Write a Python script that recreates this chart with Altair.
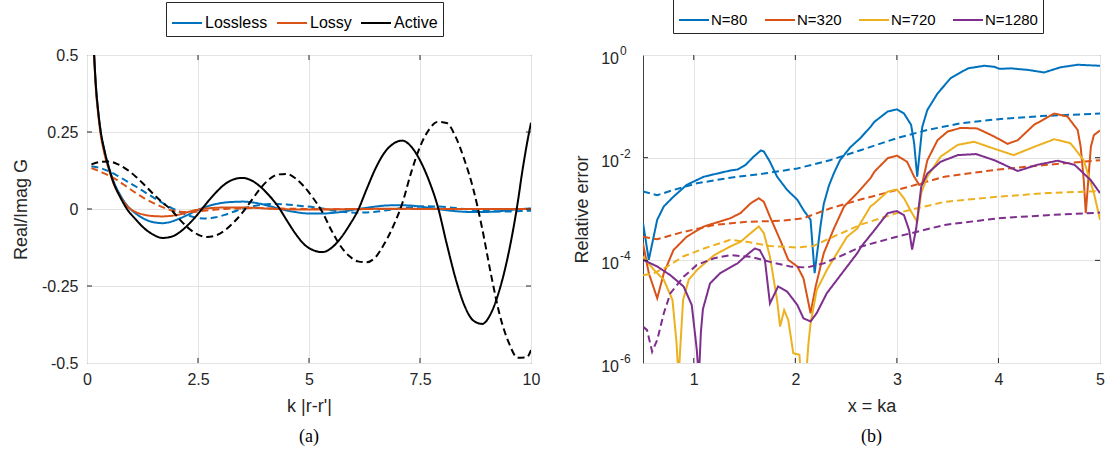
import altair as alt
import pandas as pd

# ---------------- panel (a): Green's function, real (solid) / imaginary (dashed)
K_RE = [0.15, 0.2, 0.25, 0.3, 0.4, 0.5, 0.6, 0.75, 0.9,
        1.1, 1.3, 1.5, 1.7, 1.9, 2.1, 2.3, 2.5, 2.7, 2.9,
        3.1, 3.3, 3.5, 3.7, 3.9, 4.1, 4.3, 4.5, 4.7, 4.9,
        5.1, 5.3, 5.5, 5.7, 5.9, 6.1, 6.3, 6.5, 6.7, 6.9,
        7.1, 7.3, 7.5, 7.7, 7.9, 8.1, 8.3, 8.5, 8.7, 8.9,
        9.1, 9.3, 9.5, 9.7, 9.8, 9.9, 10.0]

LOSSLESS_RE = [0.53, 0.40, 0.32, 0.26, 0.185, 0.132, 0.090, 0.045, 0.012,
               -0.015, -0.033, -0.043, -0.046, -0.041, -0.030, -0.017, -0.003, 0.008, 0.016,
               0.021, 0.023, 0.024, 0.022, 0.017, 0.010, 0.002, -0.005, -0.010, -0.014,
               -0.015, -0.015, -0.013, -0.010, -0.005, 0.000, 0.004, 0.008, 0.011, 0.012,
               0.012, 0.011, 0.008, 0.004, 0.000, -0.004, -0.007, -0.009, -0.010, -0.010,
               -0.009, -0.007, -0.004, -0.001, 0.000, 0.001, 0.002]

LOSSY_RE = [0.53, 0.39, 0.31, 0.25, 0.175, 0.125, 0.082, 0.040, 0.010,
            -0.010, -0.019, -0.023, -0.024, -0.022, -0.017, -0.009, -0.002, 0.002, 0.004,
            0.005, 0.005, 0.005, 0.004, 0.003, 0.001, 0.000, -0.001, -0.002, -0.002,
            -0.002, -0.002, -0.001, -0.001, 0.000, 0.000, 0.000, 0.001, 0.001, 0.001,
            0.001, 0.001, 0.000, 0.000, 0.000, 0.000, 0.000, 0.000, 0.000, 0.000,
            0.000, 0.000, 0.000, 0.000, 0.000, 0.000, 0.000]

ACTIVE_RE = [0.53, 0.40, 0.32, 0.26, 0.185, 0.13, 0.085, 0.038, 0.0,
             -0.034, -0.064, -0.084, -0.094, -0.090, -0.074, -0.048, -0.016, 0.020, 0.053,
             0.080, 0.096, 0.101, 0.093, 0.073, 0.044, 0.009, -0.037, -0.081, -0.116,
             -0.134, -0.140, -0.127, -0.097, -0.055, -0.005, 0.065, 0.132, 0.183, 0.212,
             0.222, 0.203, 0.158, 0.093, 0.008, -0.112, -0.225, -0.313, -0.362, -0.373,
             -0.338, -0.258, -0.140, 0.020, 0.118, 0.205, 0.280]

K_IM = [0.1, 0.3, 0.5, 0.7, 0.9, 1.1, 1.3, 1.5, 1.7, 1.9,
        2.1, 2.3, 2.5, 2.7, 2.9, 3.1, 3.3, 3.5, 3.7, 3.9,
        4.1, 4.3, 4.5, 4.7, 4.9, 5.1, 5.3, 5.5, 5.7, 5.9,
        6.1, 6.3, 6.5, 6.7, 6.9, 7.1, 7.3, 7.5, 7.7, 7.9,
        8.1, 8.3, 8.5, 8.7, 8.9, 9.1, 9.3, 9.5, 9.7, 9.9, 10.0]

LOSSLESS_IM = [0.139, 0.133, 0.122, 0.107, 0.090, 0.073, 0.055, 0.037, 0.020, 0.004,
               -0.010, -0.022, -0.029, -0.031, -0.027, -0.019, -0.009, 0.001, 0.008, 0.013,
               0.016, 0.016, 0.015, 0.012, 0.009, 0.006, 0.002, -0.004, -0.008, -0.011,
               -0.012, -0.011, -0.009, -0.005, -0.001, 0.003, 0.006, 0.008, 0.009, 0.008,
               0.006, 0.003, 0.000, -0.003, -0.006, -0.007, -0.008, -0.008, -0.007, -0.006,
               -0.006]

LOSSY_IM = [0.133, 0.121, 0.108, 0.092, 0.072, 0.052, 0.034, 0.019, 0.006, -0.004,
            -0.009, -0.010, -0.008, -0.005, -0.002, 0.000, 0.002, 0.002, 0.003, 0.003,
            0.002, 0.002, 0.001, 0.001, 0.000, 0.000, 0.000, -0.001, -0.001, -0.001,
            -0.001, 0.000, 0.000, 0.000, 0.000, 0.000, 0.000, 0.000, 0.000, 0.000,
            0.000, 0.000, 0.000, 0.000, 0.000, 0.000, 0.000, 0.000, 0.000, 0.000,
            0.000]

ACTIVE_IM = [0.145, 0.153, 0.154, 0.145, 0.128, 0.105, 0.077, 0.048, 0.021, -0.003,
             -0.036, -0.064, -0.083, -0.091, -0.086, -0.070, -0.044, -0.012, 0.027, 0.066,
             0.096, 0.112, 0.114, 0.099, 0.071, 0.034, -0.010, -0.068, -0.118, -0.152,
             -0.170, -0.173, -0.156, -0.112, -0.055, 0.018, 0.118, 0.202, 0.257, 0.283,
             0.279, 0.235, 0.160, 0.065, -0.063, -0.213, -0.346, -0.434, -0.483, -0.482,
             -0.458]

MEDIA = ["Lossless", "Lossy", "Active"]
MEDIA_COLORS = ["#0072BD", "#D95319", "#000000"]
X_TICKS_A = [0, 2.5, 5, 7.5, 10]
Y_TICKS_A = [-0.5, -0.25, 0, 0.25, 0.5]

# ---------------- panel (b): relative error vs x = ka, stored as log10(error)
MESHES = ["N=80", "N=320", "N=720", "N=1280"]
MESH_COLORS = ["#0072BD", "#D95319", "#EDB120", "#7E2F8E"]

N80_X = [0.5, 0.557, 0.64, 0.705, 0.80, 0.93, 1.1, 1.23, 1.36, 1.43, 1.51, 1.59, 1.66, 1.69,
         1.75, 1.82, 1.92, 2.02, 2.08, 2.15, 2.19, 2.25, 2.28, 2.33, 2.38, 2.44, 2.54, 2.64,
         2.74, 2.78, 2.91, 3.0, 3.07, 3.14, 3.17, 3.2, 3.23, 3.25, 3.30, 3.40, 3.53, 3.70,
         3.86, 3.96, 4.01, 4.12, 4.29, 4.45, 4.61, 4.78, 5.0]
N80_LOG = [-3.27, -3.99, -3.21, -2.95, -2.76, -2.53, -2.37, -2.31, -2.25, -2.23, -2.14, -1.98, -1.86, -1.88,
           -2.08, -2.37, -2.63, -2.82, -3.02, -3.21, -4.25, -3.30, -2.90, -2.55, -2.30, -2.05, -1.80, -1.62,
           -1.40, -1.30, -1.10, -1.06, -1.14, -1.36, -1.72, -2.37, -1.79, -1.40, -1.07, -0.75, -0.45, -0.26,
           -0.21, -0.23, -0.27, -0.26, -0.29, -0.34, -0.24, -0.19, -0.21]
N80_REF_X = [0.5, 0.64, 0.80, 1.03, 1.36, 1.69, 2.02, 2.34, 2.65, 3.0, 3.30, 3.63, 4.0, 4.42, 5.0]
N80_REF_LOG = [-2.66, -2.73, -2.63, -2.50, -2.39, -2.31, -2.21, -2.05, -1.85, -1.62, -1.46, -1.33, -1.25, -1.19, -1.14]

N320_X = [0.5, 0.557, 0.64, 0.705, 0.80, 0.93, 1.1, 1.36, 1.46, 1.56, 1.64, 1.69, 1.75, 1.85,
          1.93, 2.02, 2.08, 2.15, 2.2, 2.28, 2.38, 2.48, 2.61, 2.74, 2.78, 2.91, 3.0, 3.10,
          3.17, 3.22, 3.25, 3.30, 3.40, 3.50, 3.63, 3.79, 3.96, 4.09, 4.19, 4.35, 4.55, 4.68,
          4.78, 4.81, 4.84, 4.86, 4.88, 4.91, 4.94, 5.0]
N320_LOG = [-3.67, -4.25, -4.74, -4.25, -3.80, -3.54, -3.34, -3.18, -3.08, -2.89, -2.79, -2.86, -3.15, -3.60,
            -3.99, -4.12, -4.35, -5.03, -4.51, -3.86, -3.38, -2.95, -2.69, -2.40, -2.27, -2.01, -1.96, -2.08,
            -2.37, -2.53, -2.50, -2.05, -1.66, -1.49, -1.42, -1.43, -1.59, -1.73, -1.66, -1.36, -1.14, -1.20,
            -1.46, -1.79, -2.44, -3.08, -2.56, -1.79, -1.56, -1.47]
N320_REF_X = [0.5, 0.64, 0.87, 1.2, 1.52, 1.85, 2.08, 2.34, 2.65, 3.0, 3.47, 4.0, 4.48, 5.0]
N320_REF_LOG = [-3.54, -3.59, -3.46, -3.31, -3.25, -3.23, -3.18, -2.99, -2.81, -2.63, -2.37, -2.23, -2.14, -2.05]

N720_X = [0.5, 0.61, 0.705, 0.79, 0.83, 0.85, 0.87, 0.895, 0.95, 1.03, 1.2, 1.36, 1.46, 1.56,
          1.64, 1.69, 1.75, 1.82, 1.85, 1.89, 1.93, 1.98, 2.04, 2.06, 2.10, 2.13, 2.15, 2.21,
          2.31, 2.41, 2.51, 2.61, 2.74, 2.78, 2.91, 3.0, 3.07, 3.14, 3.2, 3.24, 3.30, 3.43,
          3.60, 3.76, 3.95, 4.15, 4.35, 4.55, 4.71, 4.84, 4.94, 5.0]
N720_LOG = [-3.93, -4.19, -4.38, -4.77, -5.60, -6.30, -5.60, -4.77, -4.38, -4.19, -3.90, -3.73, -3.64, -3.47,
            -3.34, -3.47, -3.93, -4.77, -5.29, -4.97, -5.16, -5.81, -5.84, -6.40, -6.40, -5.60, -5.23, -4.58,
            -4.19, -3.86, -3.54, -3.38, -2.95, -2.89, -2.66, -2.62, -2.79, -3.05, -3.25, -2.69, -2.37, -1.98,
            -1.75, -1.69, -1.82, -1.95, -1.79, -1.64, -1.72, -2.05, -2.69, -3.21]
N720_REF_X = [0.5, 0.61, 0.74, 0.9, 1.1, 1.36, 1.52, 1.75, 2.02, 2.18, 2.34, 2.65, 3.0, 3.47, 4.0, 4.48, 5.0]
N720_REF_LOG = [-4.29, -4.25, -4.12, -3.92, -3.77, -3.60, -3.64, -3.72, -3.75, -3.72, -3.57, -3.30, -3.08,
                -2.86, -2.76, -2.69, -2.65]

N1280_X = [0.5, 0.64, 0.77, 0.9, 0.98, 1.03, 1.05, 1.07, 1.09, 1.16, 1.26, 1.43, 1.52, 1.60,
           1.65, 1.70, 1.75, 1.83, 1.92, 2.02, 2.08, 2.15, 2.21, 2.31, 2.41, 2.51, 2.61, 2.65,
           2.78, 2.91, 3.0, 3.07, 3.12, 3.15, 3.19, 3.24, 3.30, 3.43, 3.60, 3.78, 3.96, 4.19,
           4.38, 4.58, 4.75, 4.91, 5.0]
N1280_LOG = [-3.99, -4.12, -4.29, -4.51, -4.87, -5.75, -6.30, -5.40, -4.95, -4.45, -4.25, -4.06, -3.90, -3.77,
             -3.80, -3.99, -4.84, -4.51, -4.61, -4.87, -5.13, -5.19, -5.03, -4.64, -4.38, -4.12, -3.86, -3.73,
             -3.41, -3.08, -3.04, -3.12, -3.41, -3.79, -3.38, -2.56, -2.31, -2.08, -1.95, -1.93, -2.05, -2.26,
             -2.14, -2.06, -2.14, -2.44, -2.69]
N1280_REF_X = [0.5, 0.54, 0.59, 0.64, 0.705, 0.77, 0.9, 1.03, 1.2, 1.36, 1.56, 1.75, 1.95, 2.11, 2.28,
               2.51, 2.65, 3.0, 3.47, 4.0, 4.48, 5.0]
N1280_REF_LOG = [-5.29, -5.36, -5.78, -5.55, -5.03, -4.64, -4.32, -4.09, -3.96, -3.90, -3.93, -4.03, -4.12,
                 -4.14, -4.06, -3.86, -3.73, -3.54, -3.31, -3.18, -3.12, -3.07]

X_TICKS_B = [1, 2, 3, 4, 5]
Y_TICK_ERR = [1.0, 1e-2, 1e-4, 1e-6]
Y_TICK_EXP = ["0", "-2", "-4", "-6"]

# ---------------- tables
rows_a = []
for name, re_vals, im_vals in [("Lossless", LOSSLESS_RE, LOSSLESS_IM),
                               ("Lossy", LOSSY_RE, LOSSY_IM),
                               ("Active", ACTIVE_RE, ACTIVE_IM)]:
    rows_a += [{"k": k, "G": v, "medium": name, "part": "Real"} for k, v in zip(K_RE, re_vals)]
    rows_a += [{"k": k, "G": v, "medium": name, "part": "Imag"} for k, v in zip(K_IM, im_vals)]
df_a = pd.DataFrame(rows_a)

rows_b = []
for name, xs, ls, rxs, rls in [("N=80", N80_X, N80_LOG, N80_REF_X, N80_REF_LOG),
                               ("N=320", N320_X, N320_LOG, N320_REF_X, N320_REF_LOG),
                               ("N=720", N720_X, N720_LOG, N720_REF_X, N720_REF_LOG),
                               ("N=1280", N1280_X, N1280_LOG, N1280_REF_X, N1280_REF_LOG)]:
    rows_b += [{"x": x, "err": 10.0 ** l, "mesh": name, "kind": "solid"} for x, l in zip(xs, ls)]
    rows_b += [{"x": x, "err": 10.0 ** l, "mesh": name, "kind": "dashed"} for x, l in zip(rxs, rls)]
df_b = pd.DataFrame(rows_b)

W_A, W_B, H = 444, 457, 308
TICK_LEN = 5
FONT = "Liberation Sans"
AXIS_COLOR = "#262626"
GRID_COLOR = "#e3e3e3"
DASH_SCALE = dict(range=[[1, 0], [7, 4]])
NUM_LABEL = "datum.value < 0 ? '-' + format(-datum.value, '~g') : format(datum.value, '~g')"

# shared scale and axis definitions, reused by every layer of a panel
xa = alt.Scale(domain=[0, 10], nice=False, zero=False)
ya = alt.Scale(domain=[-0.5, 0.5], nice=False)
ax_xa = alt.Axis(values=X_TICKS_A, title="k |r-r'|", grid=True, ticks=False, domain=False,
                 labelExpr=NUM_LABEL, labelPadding=8, titlePadding=10, labelFlush=False)
ax_ya = alt.Axis(values=Y_TICKS_A, title="Real/Imag G", grid=True, ticks=False, domain=False,
                 labelExpr=NUM_LABEL, labelPadding=9, minExtent=46, maxExtent=46, titlePadding=11,
                 labelFlush=False)

xb = alt.Scale(domain=[0.5, 5], nice=False, zero=False)
yb = alt.Scale(type="log", domain=[1e-6, 1], nice=False)
ax_xb = alt.Axis(values=X_TICKS_B, title="x = ka", grid=True, ticks=False, domain=False,
                 labelExpr=NUM_LABEL, labelPadding=8, titlePadding=10, labelFlush=False)
ax_yb = alt.Axis(values=Y_TICK_ERR, title="Relative error", grid=True, ticks=False, domain=False,
                 labels=False, minExtent=44, maxExtent=44, titlePadding=8)


def inner_ticks(xvals, yvals, xscale, yscale, xaxis, yaxis, width, height):
    """Short inward tick marks on all four sides of the plot box."""
    tx = pd.DataFrame({"v": xvals})
    ty = pd.DataFrame({"v": yvals})
    base = dict(color=AXIS_COLOR, strokeWidth=1)
    layers = []
    for y0, y1 in [(height, height - TICK_LEN), (0, TICK_LEN)]:
        layers.append(alt.Chart(tx).mark_rule(**base).encode(
            x=alt.X("v:Q", scale=xscale, axis=xaxis), y=alt.value(y0), y2=alt.value(y1)))
    for x0, x1 in [(0, TICK_LEN), (width, width - TICK_LEN)]:
        layers.append(alt.Chart(ty).mark_rule(**base).encode(
            y=alt.Y("v:Q", scale=yscale, axis=yaxis), x=alt.value(x0), x2=alt.value(x1)))
    return layers


# ---------------- panel (a)
lines_a = alt.Chart(df_a).mark_line(clip=True, strokeWidth=2, interpolate="monotone").encode(
    x=alt.X("k:Q", scale=xa, axis=ax_xa),
    y=alt.Y("G:Q", scale=ya, axis=ax_ya),
    color=alt.Color("medium:N", scale=alt.Scale(domain=MEDIA, range=MEDIA_COLORS), legend=alt.Legend(
        title=None, orient="none", legendX=79, legendY=-53, direction="horizontal",
        fillColor="white", strokeColor=AXIS_COLOR, padding=5, symbolType="stroke", symbolSize=900,
        symbolStrokeWidth=2, labelFontSize=16, labelFont=FONT, labelColor="black",
        labelOffset=2, columnPadding=5)),
    strokeDash=alt.StrokeDash("part:N", scale=alt.Scale(domain=["Real", "Imag"], **DASH_SCALE), legend=None),
)

cap_a = alt.Chart(pd.DataFrame({"cap": ["(a)"]})).mark_text(
    font="Liberation Serif", fontSize=18, color="black", baseline="middle").encode(
    x=alt.value(W_A / 2), y=alt.value(H + 74), text="cap:N")

panel_a = alt.layer(
    lines_a, *inner_ticks(X_TICKS_A[1:-1], Y_TICKS_A[1:-1], xa, ya, ax_xa, ax_ya, W_A, H), cap_a
).properties(width=W_A, height=H)

# ---------------- panel (b)
lines_b = alt.Chart(df_b).mark_line(clip=True, strokeWidth=2).encode(
    x=alt.X("x:Q", scale=xb, axis=ax_xb),
    y=alt.Y("err:Q", scale=yb, axis=ax_yb),
    color=alt.Color("mesh:N", scale=alt.Scale(domain=MESHES, range=MESH_COLORS), legend=alt.Legend(
        title=None, orient="none", legendX=30, legendY=-56, direction="horizontal",
        fillColor="white", strokeColor=AXIS_COLOR, padding=5, symbolType="stroke", symbolSize=900,
        symbolStrokeWidth=2, labelFontSize=15, labelFont=FONT, labelColor="black",
        labelOffset=1, columnPadding=13)),
    strokeDash=alt.StrokeDash("kind:N", scale=alt.Scale(domain=["solid", "dashed"], **DASH_SCALE), legend=None),
)

# log-axis labels drawn as "10" plus a raised exponent
ylab = pd.DataFrame({"err": Y_TICK_ERR, "base": ["10"] * 4, "exp": Y_TICK_EXP})
ylab_base = alt.Chart(ylab).mark_text(font=FONT, fontSize=16, color=AXIS_COLOR, align="right",
                                      baseline="middle", dy=4).encode(
    x=alt.value(-24), y=alt.Y("err:Q", scale=yb, axis=ax_yb), text="base:N")
ylab_exp = alt.Chart(ylab).mark_text(font=FONT, fontSize=12, color=AXIS_COLOR, align="left",
                                     baseline="middle", dy=-4).encode(
    x=alt.value(-23), y=alt.Y("err:Q", scale=yb, axis=ax_yb), text="exp:N")

cap_b = alt.Chart(pd.DataFrame({"cap": ["(b)"]})).mark_text(
    font="Liberation Serif", fontSize=18, color="black", baseline="middle").encode(
    x=alt.value(W_B / 2), y=alt.value(H + 74), text="cap:N")

panel_b = alt.layer(
    lines_b, ylab_base, ylab_exp,
    *inner_ticks(X_TICKS_B[:-1], Y_TICK_ERR[1:-1], xb, yb, ax_xb, ax_yb, W_B, H), cap_b
).properties(width=W_B, height=H)

chart = alt.hconcat(panel_a, panel_b, spacing=112, bounds="flush").resolve_scale(
    color="independent", strokeDash="independent"
).properties(
    autosize=alt.AutoSizeParams(type="none"),
    padding={"left": 87, "top": 55, "right": 1019, "bottom": 397},
    background="white",
).configure_view(
    stroke="#404040", strokeWidth=1
).configure_axis(
    labelFont=FONT, titleFont=FONT, labelFontSize=16, titleFontSize=18,
    labelColor=AXIS_COLOR, titleColor=AXIS_COLOR, titleFontWeight="normal",
    gridColor=GRID_COLOR, gridWidth=1,
)

chart.save("out.html", embed_options={"renderer": "svg", "actions": False})
